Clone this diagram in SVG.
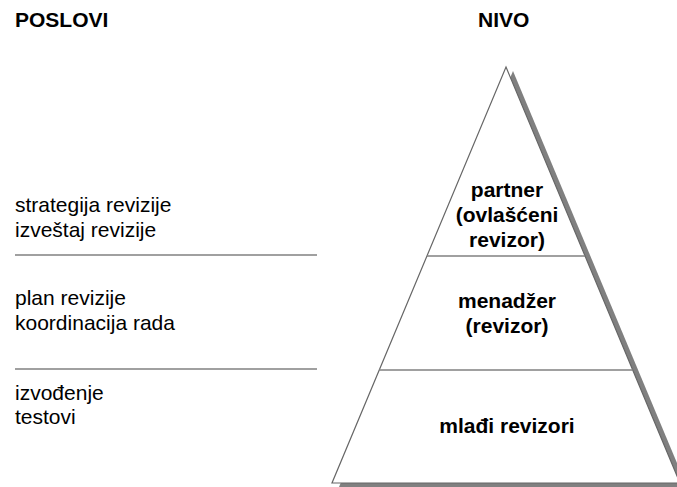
<svg xmlns="http://www.w3.org/2000/svg" width="677" height="487" viewBox="0 0 677 487">
  <style>
    .head { font-family: "Liberation Sans", Arial, sans-serif; font-size: 21px; font-weight: bold; fill: #000; }
    .task { font-family: "Liberation Sans", Arial, sans-serif; font-size: 21px; fill: #000; }
    .level { font-family: "Liberation Sans", Arial, sans-serif; font-size: 21px; font-weight: bold; fill: #000; text-anchor: middle; }
    .rule { stroke: #808080; stroke-width: 1.5; fill: none; }
    .edge { stroke: #666; stroke-width: 1.2; fill: #fff; stroke-linejoin: miter; }
    .shadow { fill: #808080; stroke: none; }
  </style>

  <!-- column headings -->
  <text class="head" x="15" y="27">POSLOVI</text>
  <text class="head" x="478" y="27">NIVO</text>

  <!-- pyramid with drop shadow -->
  <g id="pyramid">
    <polygon class="shadow" points="513,71 687,487 339,487"/>
    <polygon class="edge" points="506,67 680,483 332,483"/>
  </g>

  <!-- tier dividers -->
  <g id="dividers">
    <line class="rule" x1="15" y1="255" x2="317" y2="255"/>
    <line class="rule" x1="15" y1="369" x2="317" y2="369"/>
    <line class="rule" x1="427" y1="256" x2="585" y2="256"/>
    <line class="rule" x1="379" y1="370" x2="633" y2="370"/>
  </g>

  <!-- top tier -->
  <g id="tier-partner">
    <text class="task" x="15" y="212">strategija revizije</text>
    <text class="task" x="15" y="237">izveštaj revizije</text>
    <text class="level" x="507" y="197">partner</text>
    <text class="level" x="507" y="222">(ovlašćeni</text>
    <text class="level" x="507" y="247">revizor)</text>
  </g>

  <!-- middle tier -->
  <g id="tier-menadzer">
    <text class="task" x="15" y="305">plan revizije</text>
    <text class="task" x="15" y="330">koordinacija rada</text>
    <text class="level" x="507" y="308">menadžer</text>
    <text class="level" x="507" y="333">(revizor)</text>
  </g>

  <!-- bottom tier -->
  <g id="tier-mladji">
    <text class="task" x="15" y="400">izvođenje</text>
    <text class="task" x="15" y="424">testovi</text>
    <text class="level" x="507" y="433">mlađi revizori</text>
  </g>
</svg>
